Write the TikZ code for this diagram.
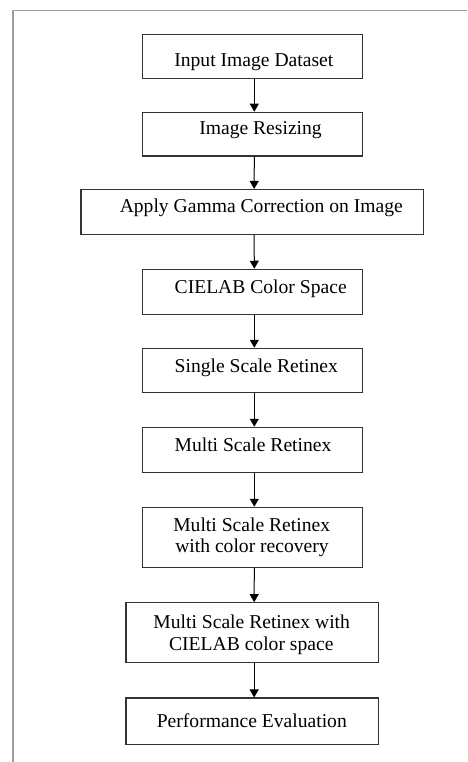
\documentclass[tikz,border=0pt]{standalone}
\usepackage{fontspec}
\setmainfont{Liberation Serif}
\usetikzlibrary{arrows.meta}
\begin{document}
\begin{tikzpicture}[x=1pt,y=-1pt,
  box/.style={draw=black!80,line width=1.1pt,inner sep=0pt,fill=none},
  lbl/.style={inner sep=0pt,anchor=base,font=\fontsize{19.6}{22}\selectfont,text=black},
  arr/.style={draw=black,line width=1pt,-{Triangle[width=9pt,length=8pt]}},
  frame/.style={draw=black!38,line width=1.6pt}]
\useasboundingbox (0,0) rectangle (467,762);
% frame
\coordinate (fr) at (467,10.5);
\coordinate (fc) at (13,10.5);
\coordinate (fb) at (13,762);
\draw[frame] (fr) -- (fc) -- (fb);
% boxes: (left,top) rectangle (right,bottom)
\node[box,minimum width=220.4pt,minimum height=44.4pt] (b1) at (252.5,56.5) {};
\node[box,minimum width=220.4pt,minimum height=43.7pt] (b2) at (252.5,134.15) {};
\node[box,minimum width=342.7pt,minimum height=45pt] (b3) at (252.35,212) {};
\node[box,minimum width=220.4pt,minimum height=45pt] (b4) at (252.5,291.8) {};
\node[box,minimum width=220.4pt,minimum height=44.4pt] (b5) at (252.5,370.5) {};
\node[box,minimum width=220.4pt,minimum height=45pt] (b6) at (252.5,449.8) {};
\node[box,minimum width=220.4pt,minimum height=60pt] (b7) at (252.5,537.3) {};
\node[box,minimum width=252.7pt,minimum height=60pt] (b8) at (252.35,632.7) {};
\node[box,minimum width=252.7pt,minimum height=46.3pt] (b9) at (252.35,721.15) {};
% labels
\node[lbl] (t1) at (253.8,66.7) {Input Image Dataset};
\node[lbl] (t2) at (260.5,134.7) {Image Resizing};
\node[lbl] (t3) at (261.3,212.7) {Apply Gamma Correction on Image};
\node[lbl] (t4) at (260.7,293.3) {CIELAB Color Space};
\node[lbl] (t5) at (256.3,372.3) {Single Scale Retinex};
\node[lbl] (t6) at (253,451.7) {Multi Scale Retinex};
\node[lbl] (t7a) at (251.7,531.5) {Multi Scale Retinex};
\node[lbl] (t7b) at (252,552) {with color recovery};
\node[lbl] (t8a) at (251.7,628.5) {Multi Scale Retinex with};
\node[lbl] (t8b) at (251.3,650.3) {CIELAB color space};
\node[lbl] (t9) at (251.8,727.7) {Performance Evaluation};
% arrows
\foreach \a/\b in {b1/b2,b2/b3,b3/b4,b4/b5,b5/b6,b6/b7,b7/b8,b8/b9}
  \draw[arr] ([xshift=1.8pt]\a.south) -- ([xshift=1.8pt]\b.north);
\end{tikzpicture}
\end{document}
